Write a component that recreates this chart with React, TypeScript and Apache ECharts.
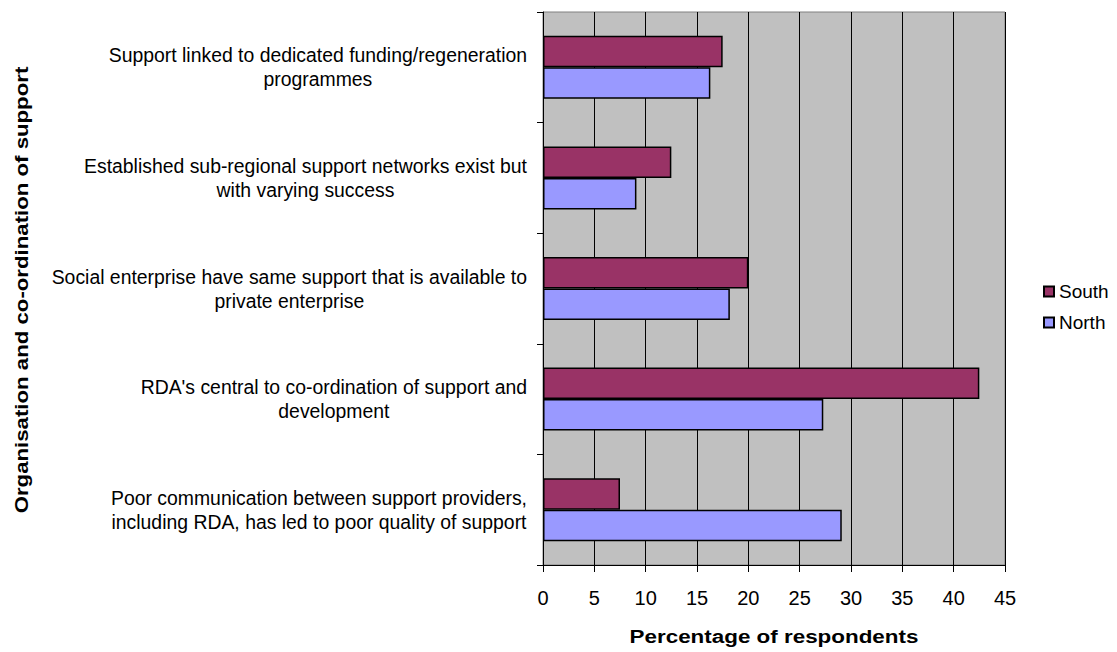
import React, { useEffect, useRef } from "react";
import * as echarts from "echarts";

const categories = [
  "Support linked to dedicated funding/regeneration\nprogrammes",
  "Established sub-regional support networks exist but\nwith varying success",
  "Social enterprise have same support that is available to\nprivate enterprise",
  "RDA's central to co-ordination of support and\ndevelopment",
  "Poor communication between support providers,\nincluding RDA, has led to poor quality of support",
];
const southValues = [17.5, 12.5, 20.0, 42.5, 7.5];
const northValues = [16.3, 9.1, 18.2, 27.3, 29.1];
const xTicks = { min: 0, max: 45, interval: 5 };
const xAxisTitle = "Percentage of respondents";
const yAxisTitle = "Organisation and co-ordination of support";

const FONT = "'Liberation Sans', Arial, sans-serif";

export default function App() {
  const ref = useRef<HTMLDivElement>(null);
  useEffect(() => {
    if (!ref.current) return;
    const chart = echarts.init(ref.current, undefined, { renderer: "svg" });
    chart.setOption({
      animation: false,
      textStyle: { fontFamily: FONT },
      grid: {
        left: 543,
        top: 12,
        right: 112,
        bottom: 87,
        show: true,
        backgroundColor: "#C0C0C0",
        borderColor: "#808080",
        borderWidth: 1,
      },
      legend: {
        orient: "vertical",
        left: 1038,
        top: 277,
        itemWidth: 10,
        itemHeight: 10,
        itemGap: 12,
        icon: "rect",
        data: ["South", "North"],
        textStyle: { fontFamily: FONT, fontSize: 19, lineHeight: 19, color: "#000" },
      },
      xAxis: {
        type: "value",
        min: xTicks.min,
        max: xTicks.max,
        interval: xTicks.interval,
        axisLine: { show: true, lineStyle: { color: "#000", width: 1 } },
        axisTick: { show: true, length: 7, lineStyle: { color: "#000" } },
        axisLabel: { fontFamily: FONT, fontSize: 20, color: "#000", margin: 23 },
        splitLine: { show: true, lineStyle: { color: "#000", width: 1 } },
      },
      yAxis: {
        type: "category",
        inverse: true,
        data: categories,
        axisLine: { show: true, lineStyle: { color: "#000", width: 1 } },
        axisTick: { show: true, length: 6, lineStyle: { color: "#000" } },
        axisLabel: {
          margin: 16,
          color: "#000",
          formatter: (v: string) =>
            v
              .split("\n")
              .map((l) => "{a|" + l + "}")
              .join("\n"),
          rich: {
            a: { fontFamily: FONT, fontSize: 19.4, lineHeight: 24, align: "center", color: "#000" },
          },
        },
      },
      graphic: [
        {
          type: "text",
          x: 774,
          y: 636,
          scaleX: 1.18,
          style: {
            text: xAxisTitle,
            fontFamily: FONT,
            fontSize: 19,
            fontWeight: "bold",
            fill: "#000",
            align: "center",
            verticalAlign: "middle",
          },
        },
        {
          type: "text",
          x: 21,
          y: 290,
          rotation: Math.PI / 2,
          scaleX: 1.17,
          style: {
            text: yAxisTitle,
            fontFamily: FONT,
            fontSize: 19,
            fontWeight: "bold",
            fill: "#000",
            align: "center",
            verticalAlign: "middle",
          },
        },
      ],
      series: [
        {
          name: "South",
          type: "bar",
          data: southValues,
          barGap: "0%",
          barCategoryGap: "43%",
          itemStyle: { color: "#993366", borderColor: "#000", borderWidth: 1.5 },
        },
        {
          name: "North",
          type: "bar",
          data: northValues,
          barGap: "0%",
          barCategoryGap: "43%",
          itemStyle: { color: "#9999FF", borderColor: "#000", borderWidth: 1.5 },
        },
      ],
    });
    return () => chart.dispose();
  }, []);
  return (
    <div
      ref={ref}
      style={{ position: "fixed", left: 0, top: 0, width: 1117, height: 652, background: "#fff" }}
    />
  );
}
